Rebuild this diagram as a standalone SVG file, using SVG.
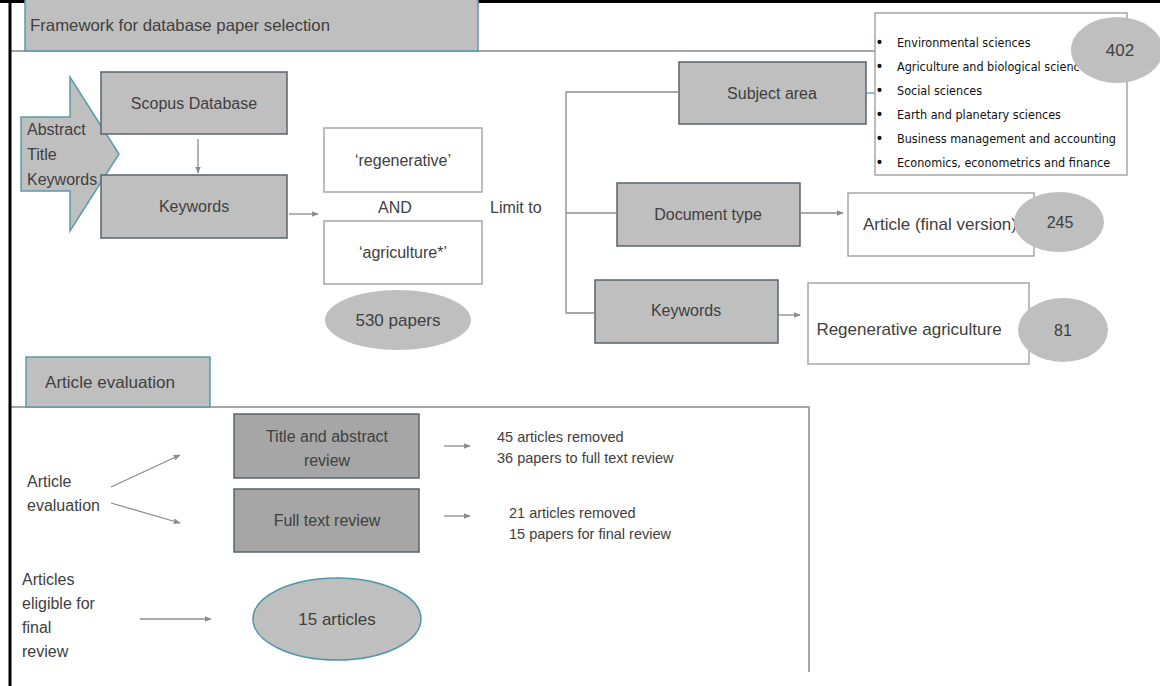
<svg xmlns="http://www.w3.org/2000/svg" width="1160" height="686" viewBox="0 0 1160 686">
<defs>
<marker id="ah" viewBox="0 0 10 10" refX="9" refY="5" markerWidth="7" markerHeight="7" markerUnits="userSpaceOnUse" orient="auto"><path d="M0,1 L10,5 L0,9 z" fill="#8c8c8c"/></marker>
<style>
text{font-family:"Liberation Sans",Arial,sans-serif;fill:#404040;}
.t16{font-size:16px;}
.t17{font-size:17px;}
.t14{font-size:14.5px;}
.hd{font-size:16.5px;}
.lst{font-family:"DejaVu Sans Condensed","Liberation Sans Narrow","Liberation Sans",sans-serif;font-size:12.5px;fill:#111;font-stretch:condensed;}
.bul{font-size:14px;font-weight:bold;fill:#111;}
.hdr{fill:#bfbfbf;stroke:#5b9aa8;stroke-width:1.5;}
.gb{fill:#bfbfbf;stroke:#5a6370;stroke-width:1.5;}
.db{fill:#a6a6a6;stroke:#5a6370;stroke-width:1.5;}
.wb{fill:#fff;stroke:#a6a6a6;stroke-width:1.5;}
.ell{fill:#bfbfbf;stroke:none;}
.ln{stroke:#8c8c8c;stroke-width:1.3;fill:none;}
.sep{stroke:#a6a6a6;stroke-width:2;fill:none;}
</style>
</defs>
<rect width="1160" height="686" fill="#fff"/>

<g id="separators">
<path class="sep" d="M11,51 H876"/>
<path class="sep" d="M11,407 H809 V672"/>
</g>

<g id="frame">
<path d="M0,1.5 H1160" stroke="#000" stroke-width="3"/>
<path d="M10,0 V686" stroke="#000" stroke-width="3"/>
</g>

<g id="title1"><rect class="hdr" x="25" y="-2" width="453" height="53"/><text class="hd" x="30" y="31" textLength="300" lengthAdjust="spacingAndGlyphs">Framework for database paper selection</text></g>

<g id="input-arrow"><path d="M21,117 H70 V77 L119,154 L70,231 V191 H21 Z" fill="#bfbfbf" stroke="#5b9aa8" stroke-width="1.5"/></g>

<g id="scopus"><rect class="gb" x="101" y="72" width="186" height="62"/><text class="t16" x="194" y="109" text-anchor="middle">Scopus Database</text></g>
<g id="keywords1"><rect class="gb" x="101" y="175" width="186" height="63"/><text class="t16" x="194" y="212" text-anchor="middle">Keywords</text></g>
<g id="input-label"><text class="t16" x="27" y="135">Abstract</text><text class="t16" x="27" y="160">Title</text><text class="t16" x="27" y="185">Keywords</text></g>

<g id="regen"><rect class="wb" x="324" y="128" width="158" height="64"/><text class="t16" x="403" y="166" text-anchor="middle">‘regenerative’</text></g>
<g id="and"><text class="t16" x="395" y="213" text-anchor="middle">AND</text></g>
<g id="agri"><rect class="wb" x="324" y="221" width="158" height="63"/><text class="t16" x="403" y="258" text-anchor="middle">‘agriculture*’</text></g>
<g id="papers530"><ellipse class="ell" cx="398" cy="320" rx="73" ry="30"/><text class="t17" x="398" y="326" text-anchor="middle">530 papers</text></g>
<g id="limit"><text class="t16" x="490" y="213">Limit to</text></g>

<g id="subject"><rect class="gb" x="679" y="62" width="187" height="62"/><text class="t16" x="772" y="99" text-anchor="middle">Subject area</text></g>
<g id="subject-list"><rect class="wb" x="875" y="13" width="252" height="162"/>
<text class="bul" x="877" y="47">•</text><text class="lst" x="897" y="47">Environmental sciences</text>
<text class="bul" x="877" y="71">•</text><text class="lst" x="897" y="71">Agriculture and biological sciences</text>
<text class="bul" x="877" y="95">•</text><text class="lst" x="897" y="95">Social sciences</text>
<text class="bul" x="877" y="119">•</text><text class="lst" x="897" y="119">Earth and planetary sciences</text>
<text class="bul" x="877" y="143">•</text><text class="lst" x="897" y="143">Business management and accounting</text>
<text class="bul" x="877" y="167">•</text><text class="lst" x="897" y="167">Economics, econometrics and finance</text>
</g>
<g id="n402"><ellipse class="ell" cx="1117" cy="50" rx="46" ry="33"/><text class="t17" x="1120" y="56" text-anchor="middle">402</text></g>

<g id="doctype"><rect class="gb" x="617" y="183" width="183" height="63"/><text class="t16" x="708" y="220" text-anchor="middle">Document type</text></g>
<g id="article"><rect class="wb" x="848" y="193" width="186" height="63"/><text class="t17" x="863" y="230">Article (final version)</text></g>
<g id="n245"><ellipse class="ell" cx="1059" cy="222" rx="45" ry="30"/><text class="t16" x="1060" y="228" text-anchor="middle">245</text></g>

<g id="keywords2"><rect class="gb" x="595" y="280" width="183" height="63"/><text class="t16" x="686" y="316" text-anchor="middle">Keywords</text></g>
<g id="regenagri"><rect class="wb" x="808" y="283" width="221" height="81"/><text class="t17" x="909" y="335" text-anchor="middle">Regenerative agriculture</text></g>
<g id="n81"><ellipse class="ell" cx="1063" cy="330" rx="45" ry="32"/><text class="t16" x="1063" y="336" text-anchor="middle">81</text></g>

<g id="title2"><rect class="hdr" x="26" y="357" width="184" height="50"/><text class="hd" x="45" y="388" textLength="130" lengthAdjust="spacingAndGlyphs">Article evaluation</text></g>

<g id="tar"><rect class="db" x="234" y="414" width="185" height="64"/><text class="t16" x="327" y="442" text-anchor="middle">Title and abstract</text><text class="t16" x="327" y="466" text-anchor="middle">review</text></g>
<g id="ftr"><rect class="db" x="234" y="489" width="185" height="63"/><text class="t16" x="327" y="526" text-anchor="middle">Full text review</text></g>

<g id="res1"><text class="t14" x="497" y="442">45 articles removed</text><text class="t14" x="497" y="463">36 papers to full text review</text></g>
<g id="res2"><text class="t14" x="509" y="518">21 articles removed</text><text class="t14" x="509" y="539">15 papers for final review</text></g>

<g id="eval-label"><text class="t16" x="27" y="487">Article</text><text class="t16" x="27" y="511">evaluation</text></g>
<g id="eligible-label"><text class="t16" x="22" y="585">Articles</text><text class="t16" x="22" y="609">eligible for</text><text class="t16" x="22" y="633">final</text><text class="t16" x="22" y="657">review</text></g>
<g id="final15"><ellipse cx="337" cy="619" rx="84" ry="41" fill="#bfbfbf" stroke="#4f98a8" stroke-width="1.5"/><text class="t17" x="337" y="625" text-anchor="middle">15 articles</text></g>

<g id="connectors">
<path class="ln" d="M198,139 V173" marker-end="url(#ah)"/>
<path class="ln" d="M289,214 H318" marker-end="url(#ah)"/>
<path class="ln" d="M679,92 H566 V313 H595"/>
<path class="ln" d="M566,213 H617"/>
<path d="M866,93 H875" stroke="#5b9aa8" stroke-width="1.3"/>
<path class="ln" d="M800,213 H843" marker-end="url(#ah)"/>
<path class="ln" d="M778,315 H800" marker-end="url(#ah)"/>
<path class="ln" d="M444,446 H470" marker-end="url(#ah)"/>
<path class="ln" d="M444,516 H470" marker-end="url(#ah)"/>
<path class="ln" d="M111,487 L180,455" marker-end="url(#ah)"/>
<path class="ln" d="M111,503 L180,523" marker-end="url(#ah)"/>
<path class="ln" d="M140,619 H211" marker-end="url(#ah)"/>
</g>
</svg>
